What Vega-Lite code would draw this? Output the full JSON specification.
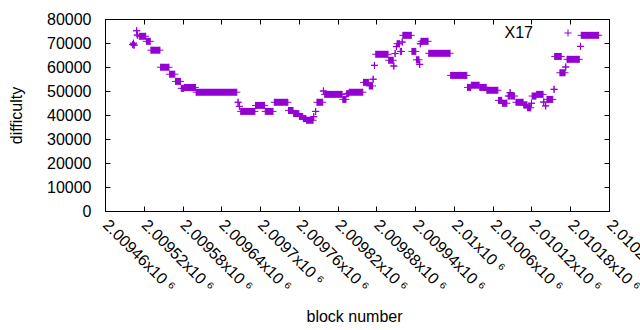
{
  "$schema": "https://vega.github.io/schema/vega-lite/v6.json",
  "width": 504,
  "height": 192,
  "autosize": {"type": "none"},
  "padding": {"left": 105, "top": 19, "right": 31, "bottom": 119},
  "background": "white",
  "config": {
    "view": {"stroke": "#000000", "strokeWidth": 1},
    "font": "Liberation Sans",
    "axis": {
      "labelFont": "Liberation Sans",
      "titleFont": "Liberation Sans",
      "labelFontSize": 16,
      "titleFontSize": 16,
      "titleFontWeight": "normal",
      "labelColor": "black",
      "titleColor": "black",
      "grid": false,
      "domain": true,
      "domainColor": "#000000",
      "domainWidth": 1,
      "ticks": true,
      "tickColor": "#000000",
      "tickWidth": 1,
      "zindex": 1
    }
  },
  "data": {
    "values": [
      {"b0": 2009503, "b1": 2009503, "d": 69300},
      {"b0": 2009504, "b1": 2009504, "d": 69900},
      {"b0": 2009505, "b1": 2009505, "d": 69100},
      {"b0": 2009509, "b1": 2009509, "d": 75100},
      {"b0": 2009510, "b1": 2009510, "d": 73300},
      {"b0": 2009513, "b1": 2009523, "d": 72800},
      {"b0": 2009524, "b1": 2009530, "d": 70700},
      {"b0": 2009531, "b1": 2009545, "d": 67000},
      {"b0": 2009546, "b1": 2009559, "d": 59900},
      {"b0": 2009560, "b1": 2009568, "d": 57000},
      {"b0": 2009569, "b1": 2009577, "d": 54000},
      {"b0": 2009578, "b1": 2009582, "d": 51100},
      {"b0": 2009583, "b1": 2009600, "d": 51500},
      {"b0": 2009601, "b1": 2009664, "d": 49500},
      {"b0": 2009666, "b1": 2009666, "d": 45300},
      {"b0": 2009668, "b1": 2009668, "d": 43600},
      {"b0": 2009670, "b1": 2009692, "d": 41500},
      {"b0": 2009693, "b1": 2009707, "d": 44000},
      {"b0": 2009708, "b1": 2009720, "d": 41500},
      {"b0": 2009722, "b1": 2009743, "d": 45300},
      {"b0": 2009744, "b1": 2009751, "d": 41900},
      {"b0": 2009752, "b1": 2009760, "d": 40600},
      {"b0": 2009761, "b1": 2009766, "d": 39400},
      {"b0": 2009767, "b1": 2009771, "d": 38500},
      {"b0": 2009772, "b1": 2009782, "d": 37800},
      {"b0": 2009783, "b1": 2009783, "d": 39300},
      {"b0": 2009786, "b1": 2009786, "d": 41500},
      {"b0": 2009788, "b1": 2009797, "d": 45300},
      {"b0": 2009798, "b1": 2009798, "d": 50000},
      {"b0": 2009800, "b1": 2009827, "d": 48600},
      {"b0": 2009828, "b1": 2009833, "d": 46500},
      {"b0": 2009834, "b1": 2009837, "d": 48900},
      {"b0": 2009838, "b1": 2009859, "d": 49500},
      {"b0": 2009860, "b1": 2009868, "d": 53600},
      {"b0": 2009869, "b1": 2009874, "d": 52100},
      {"b0": 2009875, "b1": 2009875, "d": 54900},
      {"b0": 2009877, "b1": 2009877, "d": 60700},
      {"b0": 2009879, "b1": 2009898, "d": 65300},
      {"b0": 2009899, "b1": 2009906, "d": 62800},
      {"b0": 2009907, "b1": 2009907, "d": 60400},
      {"b0": 2009909, "b1": 2009909, "d": 65600},
      {"b0": 2009911, "b1": 2009911, "d": 68500},
      {"b0": 2009912, "b1": 2009916, "d": 69700},
      {"b0": 2009917, "b1": 2009919, "d": 66500},
      {"b0": 2009920, "b1": 2009920, "d": 70400},
      {"b0": 2009921, "b1": 2009934, "d": 73200},
      {"b0": 2009935, "b1": 2009941, "d": 66500},
      {"b0": 2009942, "b1": 2009946, "d": 63000},
      {"b0": 2009947, "b1": 2009947, "d": 61100},
      {"b0": 2009948, "b1": 2009948, "d": 69700},
      {"b0": 2009949, "b1": 2009960, "d": 70700},
      {"b0": 2009961, "b1": 2009994, "d": 65700},
      {"b0": 2009995, "b1": 2010020, "d": 56500},
      {"b0": 2010021, "b1": 2010026, "d": 51500},
      {"b0": 2010027, "b1": 2010039, "d": 52400},
      {"b0": 2010040, "b1": 2010050, "d": 51500},
      {"b0": 2010051, "b1": 2010068, "d": 50300},
      {"b0": 2010069, "b1": 2010074, "d": 46100},
      {"b0": 2010075, "b1": 2010082, "d": 44900},
      {"b0": 2010084, "b1": 2010086, "d": 47900},
      {"b0": 2010087, "b1": 2010087, "d": 49300},
      {"b0": 2010088, "b1": 2010094, "d": 47900},
      {"b0": 2010096, "b1": 2010107, "d": 45300},
      {"b0": 2010108, "b1": 2010113, "d": 44200},
      {"b0": 2010114, "b1": 2010119, "d": 43000},
      {"b0": 2010120, "b1": 2010120, "d": 44900},
      {"b0": 2010121, "b1": 2010127, "d": 47900},
      {"b0": 2010128, "b1": 2010138, "d": 48600},
      {"b0": 2010139, "b1": 2010139, "d": 45400},
      {"b0": 2010142, "b1": 2010142, "d": 43800},
      {"b0": 2010144, "b1": 2010153, "d": 46500},
      {"b0": 2010155, "b1": 2010155, "d": 50700},
      {"b0": 2010156, "b1": 2010166, "d": 64400},
      {"b0": 2010164, "b1": 2010172, "d": 57600},
      {"b0": 2010173, "b1": 2010173, "d": 60000},
      {"b0": 2010175, "b1": 2010194, "d": 63200},
      {"b0": 2010196, "b1": 2010196, "d": 68600},
      {"b0": 2010197, "b1": 2010224, "d": 73200}
    ]
  },
  "layer": [
    {
      "mark": {"type": "bar", "size": 7, "color": "#9400d3"},
      "encoding": {
        "x": {
          "field": "b0",
          "type": "quantitative",
          "scale": {"domain": [2009460, 2010240], "nice": false, "zero": false, "padding": 0},
          "axis": {
            "orient": "bottom",
            "values": [2009460, 2009520, 2009580, 2009640, 2009700, 2009760, 2009820, 2009880, 2009940, 2010000, 2010060, 2010120, 2010180, 2010240],
            "labelExpr": "format(datum.value/1e6,'.6~g')+'x10 ⁶'",
            "labelAngle": 45,
            "labelAlign": "left",
            "labelBaseline": "middle",
            "labelPadding": 16,
            "labelOverlap": false,
            "labelFlush": false,
            "labelBound": false,
            "tickSize": -5,
            "title": "block number",
            "titleX": 249,
            "titleY": 110,
            "titleBaseline": "alphabetic",
            "titleAlign": "center"
          }
        },
        "x2": {"field": "b1"},
        "y": {
          "field": "d",
          "type": "quantitative",
          "scale": {"domain": [0, 80000], "nice": false, "zero": true, "padding": 0},
          "axis": {
            "orient": "left",
            "values": [0, 10000, 20000, 30000, 40000, 50000, 60000, 70000, 80000],
            "format": "d",
            "tickSize": -5,
            "labelPadding": 19,
            "title": "difficulty",
            "titleAngle": -90,
            "titleX": -84,
            "titleY": 96,
            "titleAlign": "center",
            "titleBaseline": "alphabetic"
          }
        }
      }
    },
    {
      "mark": {"type": "point", "shape": "M-1,0H1M0,-1V1", "size": 49, "filled": false, "strokeWidth": 1, "opacity": 1},
      "encoding": {
        "x": {
          "field": "b0",
          "type": "quantitative",
          "axis": {
            "orient": "top",
            "values": [2009460, 2009520, 2009580, 2009640, 2009700, 2009760, 2009820, 2009880, 2009940, 2010000, 2010060, 2010120, 2010180, 2010240],
            "labels": false,
            "tickSize": -5,
            "title": null
          }
        },
        "y": {
          "field": "d",
          "type": "quantitative",
          "axis": {
            "orient": "right",
            "values": [0, 10000, 20000, 30000, 40000, 50000, 60000, 70000, 80000],
            "labels": false,
            "tickSize": -5,
            "title": null
          }
        },
        "color": {
          "datum": "X17",
          "type": "nominal",
          "scale": {"range": ["#9400d3"]},
          "legend": {
            "orient": "none",
            "legendX": 455,
            "legendY": 6,
            "title": null,
            "padding": 0,
            "symbolType": "M-1,0H1M0,-1V1",
            "symbolSize": 49,
            "symbolStrokeWidth": 1,
            "symbolStrokeColor": "#9400d3",
            "symbolFillColor": "transparent",
            "labelFont": "Liberation Sans",
            "labelFontSize": 16,
            "labelColor": "black",
            "labelAlign": "right",
            "labelOffset": -43
          }
        }
      }
    },
    {
      "mark": {"type": "point", "shape": "M-1,0H1M0,-1V1", "size": 49, "filled": false, "strokeWidth": 1, "opacity": 1, "color": "#9400d3"},
      "encoding": {
        "x": {"field": "b1", "type": "quantitative", "axis": null},
        "y": {"field": "d", "type": "quantitative", "axis": null}
      }
    }
  ],
  "resolve": {"axis": {"x": "independent", "y": "independent"}}
}
